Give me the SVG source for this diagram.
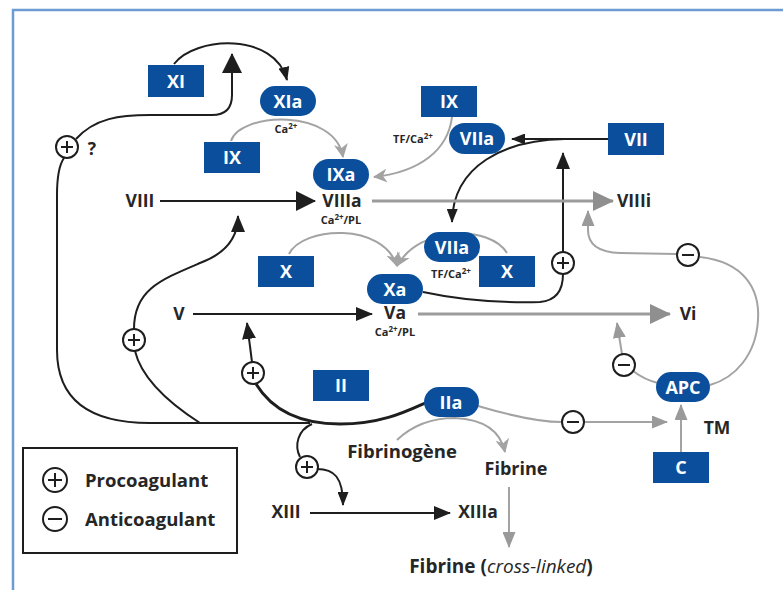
<svg xmlns="http://www.w3.org/2000/svg" width="783" height="590" viewBox="0 0 783 590">
<style>
.bk{fill:none;stroke:#1e1e1e;stroke-width:2}
.bk3{fill:none;stroke:#1e1e1e;stroke-width:3}
.gy{fill:none;stroke:#a3a3a3;stroke-width:2}
.gy3{fill:none;stroke:#9c9c9c;stroke-width:3}
.nd{fill:#0b4f9c}
.nt{font-family:"Open Sans","DejaVu Sans",sans-serif;font-weight:700;font-size:18px;fill:#fff;text-anchor:middle}
.lb{font-family:"Open Sans","DejaVu Sans",sans-serif;font-weight:700;font-size:17.5px;fill:#262626;text-anchor:middle}
.sm{font-family:"Open Sans","DejaVu Sans",sans-serif;font-weight:700;font-size:11px;fill:#262626;text-anchor:middle}
.sg{fill:#fff;stroke:#1e1e1e;stroke-width:2}
.sl{stroke:#1e1e1e;stroke-width:2}
</style>
<defs>
<marker id="bkL" markerUnits="userSpaceOnUse" markerWidth="20" markerHeight="20" viewBox="0 0 20 20" refX="19" refY="10" orient="auto"><path d="M0,0 L20,10 L0,20 z" fill="#1e1e1e"/></marker>
<marker id="bkM" markerUnits="userSpaceOnUse" markerWidth="17" markerHeight="14" viewBox="0 0 17 14" refX="16" refY="7" orient="auto"><path d="M0,0 L17,7 L0,14 z" fill="#1e1e1e"/></marker>
<marker id="bkS" markerUnits="userSpaceOnUse" markerWidth="14" markerHeight="11" viewBox="0 0 14 11" refX="13" refY="5.5" orient="auto"><path d="M0,0 L14,5.5 L0,11 z" fill="#1e1e1e"/></marker>
<marker id="gyL" markerUnits="userSpaceOnUse" markerWidth="21" markerHeight="20" viewBox="0 0 21 20" refX="20" refY="10" orient="auto"><path d="M0,0 L21,10 L0,20 z" fill="#8f8f8f"/></marker>
<marker id="gyM" markerUnits="userSpaceOnUse" markerWidth="16" markerHeight="13" viewBox="0 0 16 13" refX="15" refY="6.5" orient="auto"><path d="M0,0 L16,6.5 L0,13 z" fill="#9a9a9a"/></marker>
<marker id="gyC" markerUnits="userSpaceOnUse" markerWidth="14" markerHeight="14" viewBox="0 0 14 14" refX="13" refY="7" orient="auto"><path d="M0,0 L14,7 L0,14 L4,7 z" fill="#a3a3a3"/></marker>
</defs>
<rect width="783" height="590" fill="#fff"/>
<path d="M13,590 L13,10 L783,10" fill="none" stroke="#6d9bd4" stroke-width="2.5"/>

<g id="connectors">
<path class="bk" d="M174,64 C195,36 275,32 287,80" marker-end="url(#bkS)"/>
<path class="bk" d="M76,139 C95,118 120,115 150,115 L212,115 Q232,115 232,95 L232,54" marker-end="url(#bkL)"/>
<path class="bk" d="M64,158 Q57,168 57,195 L57,350 C57,402 92,423 150,423 L310,423"/>
<path class="bk" d="M134,329 C134,290 160,280 200,263 Q238,249 238,216" marker-end="url(#bkM)"/>
<path class="bk" d="M200,423 C172,405 142,380 135,351"/>
<path class="bk" d="M252,362 L247,323" marker-end="url(#bkM)"/>
<path class="bk3" d="M256,384 C272,410 300,424 340,424 C380,424 405,412 425,403"/>
<path class="bk" d="M160,201 L315,201" marker-end="url(#bkL)"/>
<path class="bk" d="M193,314 L372,314" marker-end="url(#bkM)"/>
<path class="bk" d="M608,139 L512,139" marker-end="url(#bkS)"/>
<path class="bk" d="M565,139 C505,140 453,165 452,222" marker-end="url(#bkS)"/>
<path class="bk" d="M563,252 L563,153" marker-end="url(#bkM)"/>
<path class="bk" d="M423,292 C460,300 500,303 540,302 Q563,300 563,274"/>
<path class="bk" d="M312,424 C298,430 294,445 300,457"/>
<path class="bk" d="M317,469 C334,469 343,477 343,505" marker-end="url(#bkS)"/>
<path class="bk" d="M310,513 L450,513" marker-end="url(#bkM)"/>
<path class="gy" d="M231,141 C240,112 335,108 343,157" marker-end="url(#gyC)"/>
<path class="gy" d="M452,117 C448,150 420,172 374,177" marker-end="url(#gyC)"/>
<path class="gy" d="M289,254 C303,226 383,222 397,266" marker-end="url(#gyC)"/>
<path class="gy" d="M507,253 C490,225 420,225 397,266" marker-end="url(#gyC)"/>
<path class="gy3" d="M372,201 L613,201" marker-end="url(#gyL)"/>
<path class="gy3" d="M418,314 L670,314" marker-end="url(#gyL)"/>
<path class="gy" d="M676,254 L620,253 Q588,252 588,230 L588,211" marker-end="url(#gyM)"/>
<path class="gy" d="M700,257 C745,262 760,290 758,320 C756,355 735,378 710,385"/>
<path class="gy" d="M658,383 Q645,380 633,371"/>
<path class="gy" d="M622,354 L617,323" marker-end="url(#gyM)"/>
<path class="gy" d="M478,406 C505,414 535,422 562,422"/>
<path class="gy" d="M584,422 L667,422" marker-end="url(#gyM)"/>
<path class="gy" d="M681,452 L681,405" marker-end="url(#gyM)"/>
<path class="gy" d="M397,440 Q420,418 455,418 Q498,420 505,452" marker-end="url(#gyC)"/>
<path class="gy" d="M509,487 L509,547" marker-end="url(#gyM)"/>
</g>

<g id="signs">
<g id="s-plus-1"><circle class="sg" cx="67" cy="147" r="11"/><path class="sl" d="M61,147 H73 M67,141 V153"/></g>
<g id="s-plus-2"><circle class="sg" cx="134" cy="340" r="11"/><path class="sl" d="M128,340 H140 M134,334 V346"/></g>
<g id="s-plus-3"><circle class="sg" cx="253" cy="373" r="11"/><path class="sl" d="M247,373 H259 M253,367 V379"/></g>
<g id="s-plus-4"><circle class="sg" cx="563" cy="263" r="11"/><path class="sl" d="M557,263 H569 M563,257 V269"/></g>
<g id="s-plus-5"><circle class="sg" cx="307" cy="467" r="11"/><path class="sl" d="M301,467 H313 M307,461 V473"/></g>
<g id="s-minus-1"><circle class="sg" cx="688" cy="255" r="11"/><path class="sl" d="M682,255 H694"/></g>
<g id="s-minus-2"><circle class="sg" cx="624" cy="365" r="11"/><path class="sl" d="M618,365 H630"/></g>
<g id="s-minus-3"><circle class="sg" cx="573" cy="422" r="11"/><path class="sl" d="M567,422 H579"/></g>
<text class="lb" x="92" y="155">?</text>
</g>

<g id="n-XI"><rect class="nd" x="148" y="65" width="56" height="32"/><text class="nt" x="176" y="88">XI</text></g>
<g id="n-XIa"><rect class="nd" x="260" y="86" width="56" height="30" rx="15"/><text class="nt" x="288" y="108">XIa</text>
<text class="sm" x="286" y="133">Ca<tspan dy="-4" font-size="8">2+</tspan></text></g>
<g id="n-IX1"><rect class="nd" x="204" y="142" width="56" height="31"/><text class="nt" x="232" y="164">IX</text></g>
<g id="n-IXa"><rect class="nd" x="313" y="159" width="56" height="31" rx="15.5"/><text class="nt" x="341" y="181">IXa</text></g>
<g id="n-VIIIa"><text class="lb" x="342" y="207">VIIIa</text>
<text class="sm" x="341" y="224">Ca<tspan dy="-4" font-size="8">2+</tspan><tspan dy="4">/PL</tspan></text></g>
<g id="n-VIII"><text class="lb" x="140" y="207">VIII</text></g>
<g id="n-VIIIi"><text class="lb" x="634" y="207">VIIIi</text></g>
<g id="n-IX2"><rect class="nd" x="421" y="86" width="56" height="31"/><text class="nt" x="449" y="108">IX</text>
<text class="sm" x="413" y="143">TF/Ca<tspan dy="-4" font-size="8">2+</tspan></text></g>
<g id="n-VIIa1"><rect class="nd" x="449" y="123" width="56" height="31" rx="15.5"/><text class="nt" x="477" y="145">VIIa</text></g>
<g id="n-VII"><rect class="nd" x="608" y="123" width="56" height="32"/><text class="nt" x="636" y="146">VII</text></g>
<g id="n-X1"><rect class="nd" x="258" y="256" width="56" height="31"/><text class="nt" x="286" y="278">X</text></g>
<g id="n-VIIa2"><rect class="nd" x="424" y="232" width="56" height="30" rx="15"/><text class="nt" x="452" y="254">VIIa</text>
<text class="sm" x="451" y="278">TF/Ca<tspan dy="-4" font-size="8">2+</tspan></text></g>
<g id="n-X2"><rect class="nd" x="479" y="256" width="56" height="31"/><text class="nt" x="507" y="278">X</text></g>
<g id="n-Xa"><rect class="nd" x="367" y="274" width="56" height="30" rx="15"/><text class="nt" x="395" y="296">Xa</text></g>
<g id="n-Va"><text class="lb" x="395" y="319">Va</text>
<text class="sm" x="395" y="336">Ca<tspan dy="-4" font-size="8">2+</tspan><tspan dy="4">/PL</tspan></text></g>
<g id="n-V"><text class="lb" x="179" y="320">V</text></g>
<g id="n-Vi"><text class="lb" x="688" y="320">Vi</text></g>
<g id="n-II"><rect class="nd" x="313" y="370" width="56" height="31"/><text class="nt" x="341" y="392">II</text></g>
<g id="n-IIa"><rect class="nd" x="424" y="387" width="55" height="30" rx="15"/><text class="nt" x="451" y="409">IIa</text></g>
<g id="n-APC"><rect class="nd" x="656" y="372" width="54" height="30" rx="15"/><text class="nt" x="683" y="394">APC</text></g>
<g id="n-TM"><text class="lb" x="717" y="434">TM</text></g>
<g id="n-C"><rect class="nd" x="653" y="452" width="56" height="31"/><text class="nt" x="681" y="474">C</text></g>
<g id="n-Fibrinogene"><text class="lb" x="402" y="458" style="font-size:18.5px">Fibrinogène</text></g>
<g id="n-Fibrine"><text class="lb" x="516" y="475" style="font-size:18px">Fibrine</text></g>
<g id="n-XIII"><text class="lb" x="286" y="518">XIII</text></g>
<g id="n-XIIIa"><text class="lb" x="478" y="518">XIIIa</text></g>
<g id="n-FibrineCL"><text class="lb" x="501" y="573" style="font-size:19px">Fibrine (<tspan font-style="italic" font-weight="400">cross-linked</tspan>)</text></g>

<g id="legend">
<rect x="23" y="448" width="214" height="105" fill="none" stroke="#1e1e1e" stroke-width="2"/>
<circle class="sg" cx="55" cy="480" r="12"/><path class="sl" d="M48,480 H62 M55,473 V487"/>
<circle class="sg" cx="55" cy="519" r="12"/><path class="sl" d="M48,519 H62"/>
<text class="lb" x="85" y="487" style="text-anchor:start;font-size:18.5px">Procoagulant</text>
<text class="lb" x="85" y="526" style="text-anchor:start;font-size:18.5px">Anticoagulant</text>
</g>
</svg>
